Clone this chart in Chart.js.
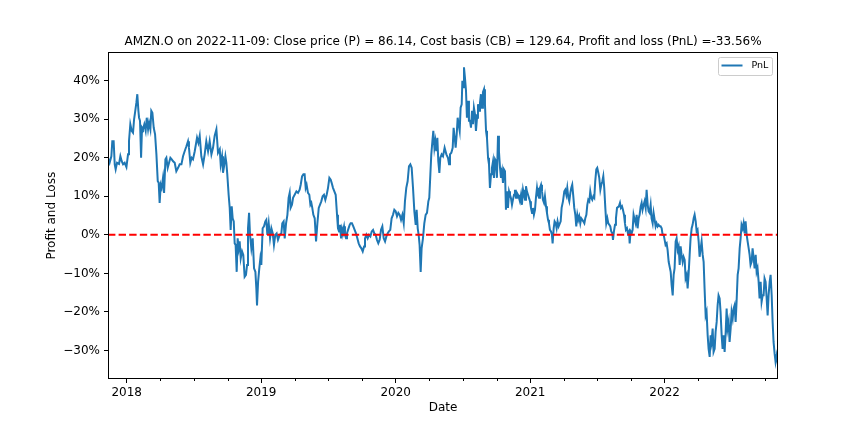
<!DOCTYPE html>
<html>
<head>
<meta charset="utf-8">
<script src="https://cdn.jsdelivr.net/npm/chart.js@4.4.1/dist/chart.umd.min.js"></script>
<style>
  html, body { margin: 0; padding: 0; background: #fff; }
  #chart { display: block; }
</style>
</head>
<body>
<canvas id="chart" width="864" height="432"></canvas>
<script>
// AMZN.O profit and loss vs cost basis
const chartTitle = 'AMZN.O on 2022-11-09: Close price (P) = 86.14, Cost basis (CB) = 129.64, Profit and loss (PnL) =-33.56%';
const seriesLabel = 'PnL';

// dates as decimal years
const years = [
  2017.861, 2017.873, 2017.886, 2017.893, 2017.903, 2017.911, 2017.918, 2017.928, 2017.943, 2017.953,
  2017.963, 2017.973, 2017.985, 2017.998, 2018.010, 2018.017, 2018.027, 2018.037, 2018.047, 2018.055,
  2018.062, 2018.072, 2018.079, 2018.087, 2018.092, 2018.099, 2018.107, 2018.114, 2018.121, 2018.131,
  2018.141, 2018.149, 2018.159, 2018.166, 2018.176, 2018.183, 2018.191, 2018.201, 2018.211, 2018.221,
  2018.231, 2018.238, 2018.245, 2018.253, 2018.260, 2018.270, 2018.278, 2018.288, 2018.295, 2018.305,
  2018.315, 2018.325, 2018.335, 2018.345, 2018.357, 2018.369, 2018.382, 2018.394, 2018.407, 2018.419,
  2018.431, 2018.444, 2018.456, 2018.463, 2018.473, 2018.483, 2018.493, 2018.506, 2018.523, 2018.533,
  2018.543, 2018.555, 2018.568, 2018.580, 2018.592, 2018.605, 2018.617, 2018.630, 2018.642, 2018.654,
  2018.667, 2018.679, 2018.692, 2018.699, 2018.709, 2018.716, 2018.724, 2018.734, 2018.741, 2018.748,
  2018.758, 2018.766, 2018.773, 2018.781, 2018.788, 2018.796, 2018.803, 2018.810, 2018.818, 2018.825,
  2018.833, 2018.840, 2018.848, 2018.858, 2018.867, 2018.877, 2018.887, 2018.895, 2018.902, 2018.910,
  2018.917, 2018.927, 2018.937, 2018.947, 2018.957, 2018.964, 2018.969, 2018.977, 2018.986, 2018.994,
  2019.001, 2019.011, 2019.021, 2019.031, 2019.038, 2019.046, 2019.056, 2019.066, 2019.076, 2019.086,
  2019.095, 2019.105, 2019.115, 2019.125, 2019.138, 2019.150, 2019.157, 2019.167, 2019.175, 2019.185,
  2019.195, 2019.204, 2019.212, 2019.219, 2019.229, 2019.237, 2019.249, 2019.262, 2019.274, 2019.286,
  2019.294, 2019.304, 2019.314, 2019.323, 2019.331, 2019.338, 2019.348, 2019.358, 2019.366, 2019.373,
  2019.380, 2019.388, 2019.398, 2019.408, 2019.418, 2019.428, 2019.437, 2019.447, 2019.457, 2019.467,
  2019.477, 2019.487, 2019.497, 2019.507, 2019.517, 2019.524, 2019.534, 2019.544, 2019.554, 2019.564,
  2019.571, 2019.579, 2019.586, 2019.594, 2019.601, 2019.608, 2019.616, 2019.623, 2019.631, 2019.638,
  2019.646, 2019.658, 2019.665, 2019.675, 2019.685, 2019.695, 2019.705, 2019.715, 2019.725, 2019.735,
  2019.745, 2019.755, 2019.765, 2019.772, 2019.782, 2019.792, 2019.802, 2019.812, 2019.822, 2019.832,
  2019.841, 2019.851, 2019.861, 2019.871, 2019.881, 2019.891, 2019.901, 2019.911, 2019.921, 2019.931,
  2019.941, 2019.950, 2019.960, 2019.970, 2019.980, 2019.990, 2020.000, 2020.010, 2020.020, 2020.030,
  2020.040, 2020.050, 2020.060, 2020.069, 2020.079, 2020.089, 2020.099, 2020.109, 2020.119, 2020.129,
  2020.139, 2020.149, 2020.156, 2020.164, 2020.171, 2020.178, 2020.186, 2020.193, 2020.203, 2020.213,
  2020.223, 2020.233, 2020.243, 2020.250, 2020.258, 2020.265, 2020.273, 2020.280, 2020.288, 2020.295,
  2020.302, 2020.310, 2020.317, 2020.325, 2020.332, 2020.342, 2020.352, 2020.364, 2020.377, 2020.389,
  2020.397, 2020.404, 2020.414, 2020.424, 2020.431, 2020.439, 2020.446, 2020.454, 2020.461, 2020.468,
  2020.476, 2020.483, 2020.491, 2020.496, 2020.503, 2020.508, 2020.515, 2020.523, 2020.530, 2020.538,
  2020.545, 2020.553, 2020.560, 2020.568, 2020.575, 2020.582, 2020.590, 2020.597, 2020.605, 2020.612,
  2020.620, 2020.627, 2020.634, 2020.642, 2020.649, 2020.657, 2020.664, 2020.672, 2020.679, 2020.687,
  2020.694, 2020.701, 2020.709, 2020.716, 2020.724, 2020.731, 2020.739, 2020.746, 2020.753, 2020.761,
  2020.768, 2020.776, 2020.783, 2020.791, 2020.798, 2020.805, 2020.813, 2020.820, 2020.828, 2020.835,
  2020.843, 2020.850, 2020.857, 2020.865, 2020.872, 2020.880, 2020.887, 2020.895, 2020.902, 2020.910,
  2020.917, 2020.924, 2020.932, 2020.939, 2020.947, 2020.954, 2020.962, 2020.969, 2020.976, 2020.984,
  2020.991, 2020.999, 2021.006, 2021.014, 2021.021, 2021.028, 2021.036, 2021.043, 2021.051, 2021.058,
  2021.066, 2021.073, 2021.081, 2021.088, 2021.095, 2021.103, 2021.110, 2021.118, 2021.125, 2021.133,
  2021.140, 2021.147, 2021.155, 2021.162, 2021.167, 2021.175, 2021.182, 2021.190, 2021.197, 2021.204,
  2021.212, 2021.227, 2021.234, 2021.244, 2021.254, 2021.261, 2021.269, 2021.276, 2021.284, 2021.291,
  2021.299, 2021.306, 2021.313, 2021.321, 2021.328, 2021.336, 2021.343, 2021.351, 2021.358, 2021.365,
  2021.373, 2021.380, 2021.388, 2021.395, 2021.403, 2021.410, 2021.418, 2021.425, 2021.432, 2021.440,
  2021.447, 2021.455, 2021.462, 2021.470, 2021.477, 2021.484, 2021.492, 2021.499, 2021.507, 2021.514,
  2021.522, 2021.529, 2021.537, 2021.544, 2021.551, 2021.559, 2021.566, 2021.574, 2021.581, 2021.589,
  2021.596, 2021.603, 2021.611, 2021.616, 2021.623, 2021.631, 2021.638, 2021.646, 2021.653, 2021.660,
  2021.668, 2021.675, 2021.683, 2021.690, 2021.698, 2021.705, 2021.712, 2021.720, 2021.727, 2021.735,
  2021.740, 2021.747, 2021.755, 2021.762, 2021.769, 2021.777, 2021.784, 2021.792, 2021.799, 2021.807,
  2021.814, 2021.822, 2021.829, 2021.836, 2021.844, 2021.851, 2021.859, 2021.866, 2021.874, 2021.881,
  2021.888, 2021.896, 2021.903, 2021.911, 2021.918, 2021.926, 2021.933, 2021.940, 2021.948, 2021.955,
  2021.963, 2021.970, 2021.978, 2021.985, 2021.993, 2022.000, 2022.007, 2022.015, 2022.022, 2022.030,
  2022.045, 2022.052, 2022.060, 2022.067, 2022.074, 2022.082, 2022.089, 2022.097, 2022.104, 2022.112,
  2022.119, 2022.126, 2022.134, 2022.141, 2022.149, 2022.156, 2022.164, 2022.171, 2022.178, 2022.186,
  2022.193, 2022.201, 2022.208, 2022.216, 2022.223, 2022.231, 2022.238, 2022.245, 2022.253, 2022.260,
  2022.268, 2022.275, 2022.283, 2022.290, 2022.297, 2022.305, 2022.312, 2022.320, 2022.327, 2022.335,
  2022.342, 2022.349, 2022.357, 2022.364, 2022.372, 2022.379, 2022.387, 2022.394, 2022.401, 2022.409,
  2022.416, 2022.424, 2022.431, 2022.439, 2022.446, 2022.454, 2022.461, 2022.468, 2022.476, 2022.483,
  2022.491, 2022.498, 2022.506, 2022.513, 2022.520, 2022.528, 2022.535, 2022.543, 2022.550, 2022.558,
  2022.565, 2022.572, 2022.580, 2022.587, 2022.595, 2022.602, 2022.610, 2022.617, 2022.625, 2022.632,
  2022.639, 2022.647, 2022.654, 2022.662, 2022.669, 2022.677, 2022.684, 2022.691, 2022.699, 2022.706,
  2022.714, 2022.721, 2022.729, 2022.736, 2022.743, 2022.751, 2022.758, 2022.766, 2022.773, 2022.781,
  2022.788, 2022.796, 2022.803, 2022.810, 2022.818, 2022.825, 2022.833, 2022.843
];

// profit and loss in percent
const pnl = [
  20.0, 18.7, 20.4, 24.3, 24.3, 18.3, 17.0, 18.7, 18.4, 20.4,
  19.1, 18.3, 18.7, 17.6, 20.9, 24.3, 28.7, 27.0, 26.5, 30.0,
  31.7, 34.3, 36.5, 32.2, 30.4, 29.6, 20.0, 27.8, 27.4, 28.7,
  27.0, 30.4, 27.4, 29.1, 27.4, 32.2, 31.7, 27.8, 26.1, 20.9,
  13.9, 13.5, 8.3, 13.0, 12.2, 14.8, 10.9, 19.6, 20.0, 17.4,
  18.7, 20.0, 19.6, 19.1, 18.7, 16.5, 17.4, 18.3, 18.3, 20.4,
  21.7, 23.0, 24.3, 22.6, 18.7, 20.0, 19.6, 21.7, 25.2, 23.9,
  25.7, 20.4, 18.3, 20.9, 24.3, 21.7, 24.3, 20.9, 22.6, 25.7,
  27.4, 21.3, 22.2, 18.3, 20.4, 16.1, 17.8, 20.4, 18.7, 15.7,
  10.4, 7.0, 1.3, 7.4, 4.3, 3.5, -2.2, -2.6, -9.6, -0.9,
  -3.5, -1.7, -6.1, -4.3, -5.2, -10.9, -10.4, -7.8, 1.7, 5.7,
  0.0, -3.5, -0.9, -8.7, -9.6, -13.9, -18.3, -12.2, -8.7, -6.1,
  -7.8, 1.7, 2.2, 3.5, 3.9, 0.0, 3.0, -0.9, 1.7, 0.4,
  -2.6, 0.0, 0.4, -1.3, 0.0, 0.4, 3.0, 3.5, -0.9, 3.0,
  5.2, 9.6, 10.9, 7.0, 7.8, 9.6, 10.4, 11.3, 10.9, 11.7,
  13.0, 15.2, 15.7, 15.7, 12.2, 13.0, 10.9, 10.4, 7.8, 8.3,
  7.0, 5.2, 4.3, -1.7, 3.0, 7.0, 7.8, 8.7, 10.0, 10.4,
  9.1, 10.4, 12.2, 14.8, 14.3, 13.5, 12.2, 11.3, 10.4, 5.2,
  1.7, 0.9, 2.6, -0.9, 1.7, 0.9, 2.2, 0.0, -0.9, 0.4,
  1.3, 2.6, 3.0, 3.0, 2.2, 1.3, 0.4, -0.9, -2.2, -3.0,
  -3.5, -4.3, -3.0, -0.9, 0.0, -0.9, 0.0, -0.4, 0.9, 1.3,
  0.4, 0.0, -1.3, -2.2, -1.3, 1.3, 2.2, -0.9, -1.7, -0.4,
  0.4, 0.9, 1.3, 4.3, 5.2, 6.5, 6.1, 4.8, 5.7, 5.2,
  3.9, 5.2, 3.0, 8.7, 12.2, 13.9, 17.8, 18.3, 17.4, 12.2,
  6.1, 2.6, 6.5, 1.7, 0.0, -2.6, -9.6, -3.5, -0.9, 3.0,
  5.2, 5.7, 8.7, 9.6, 15.7, 20.9, 24.3, 27.0, 22.6, 24.3,
  21.7, 25.2, 19.1, 16.1, 20.0, 20.9, 20.4, 22.6, 20.9, 20.0,
  18.3, 20.9, 21.3, 22.6, 27.8, 25.2, 22.6, 26.1, 30.4, 28.7,
  27.0, 33.0, 33.9, 40.0, 38.3, 43.5, 40.9, 37.4, 30.4, 34.8,
  29.6, 29.6, 27.8, 32.2, 28.7, 33.0, 31.3, 27.0, 30.4, 33.9,
  32.2, 34.3, 36.5, 33.0, 37.0, 37.8, 33.9, 27.0, 25.2, 20.0,
  18.3, 12.2, 15.7, 17.4, 19.1, 14.8, 19.6, 19.1, 14.8, 25.7,
  21.7, 17.4, 14.8, 16.5, 13.5, 17.0, 16.5, 6.5, 11.3, 7.0,
  11.3, 10.4, 9.6, 7.8, 9.1, 10.4, 11.7, 9.6, 10.9, 10.4,
  9.6, 8.7, 10.4, 7.8, 11.7, 10.4, 9.1, 12.6, 11.3, 10.4,
  9.6, 8.7, 7.0, 5.7, 7.0, 5.2, 6.5, 9.6, 12.2, 10.4,
  9.6, 12.2, 13.0, 11.3, 9.1, 8.3, 10.0, 7.4, 5.7, 3.9,
  3.0, 1.3, 0.9, 0.0, -2.2, 1.7, 3.5, 3.0, 1.7, 3.5,
  2.2, 3.5, 7.0, 8.7, 11.3, 11.7, 10.4, 12.2, 9.6, 8.7,
  10.9, 12.2, 13.0, 10.0, 7.0, 5.2, 2.2, 5.2, 3.9, 4.8,
  3.0, 4.3, 3.9, 3.5, 3.0, 4.3, 5.2, 7.8, 9.1, 8.7,
  11.3, 9.6, 9.1, 10.0, 9.6, 13.9, 17.0, 17.4, 16.1, 14.8,
  11.7, 13.0, 13.9, 15.2, 12.2, 7.0, 3.0, 4.3, 3.0, 2.6,
  2.2, 0.9, 0.4, -1.3, 0.9, 2.6, 4.3, 7.0, 7.0, 7.4,
  8.3, 7.0, 7.4, 6.5, 5.2, 3.0, 1.3, 1.7, 0.4, 0.9,
  -2.2, 0.9, 0.4, 1.3, 5.2, 3.9, 3.0, 5.2, 1.7, 4.3,
  5.2, 7.4, 8.3, 6.5, 7.8, 8.7, 7.0, 11.7, 7.8, 6.1,
  5.7, 7.8, 4.3, 3.0, 5.7, 3.9, 2.2, 3.0, 2.2, 2.6,
  2.2, 2.2, 1.7, 0.0, 0.0, -1.3, -2.6, -2.2, -3.9, -7.0,
  -9.6, -13.0, -15.7, -10.4, -8.7, -1.7, -0.9, -3.9, -3.0, -7.8,
  -3.0, -5.2, -7.0, -5.7, -6.5, -11.3, -10.4, -13.9, -10.4, -5.2,
  -0.9, 1.7, 2.6, 4.3, 5.2, 3.5, 0.9, 1.3, -1.7, -5.7,
  -3.5, -1.7, -5.2, -7.0, -13.9, -20.9, -20.0, -26.1, -29.6, -31.7,
  -26.1, -27.8, -24.3, -30.4, -29.6, -25.2, -22.6, -18.3, -15.7, -16.5,
  -20.0, -26.1, -29.6, -26.1, -30.4, -25.2, -19.1, -24.3, -22.6, -27.8,
  -24.3, -20.0, -21.7, -19.1, -18.3, -22.6, -17.4, -10.4, -8.7, -3.5,
  -0.9, 2.6, 1.7, 3.0, 0.4, 3.5, 0.0, -1.7, -3.5, -5.2,
  -7.8, -7.0, -3.5, -6.1, -8.7, -5.2, -9.6, -8.7, -12.2, -16.5,
  -12.2, -17.4, -15.7, -15.7, -11.3, -12.2, -16.1, -20.9, -15.7, -12.2,
  -10.4, -15.7, -22.6, -27.8, -30.9, -33.0, -31.3, -33.56
];

const yearTicks = [2018, 2019, 2020, 2021, 2022];
const quarterTicks = [
  2018.25, 2018.5, 2018.75, 2019.25, 2019.5, 2019.75, 2020.25, 2020.5, 2020.75,
  2021.25, 2021.5, 2021.75, 2022.25, 2022.5, 2022.75
];
const pnlTicks = [-30, -20, -10, 0, 10, 20, 30, 40];
const zeroLevel = 0;

Chart.defaults.font.family = "'DejaVu Sans', sans-serif";
Chart.defaults.font.size = 12;
Chart.defaults.color = '#000';

const pnlPoints = years.map((x, i) => ({ x: x, y: pnl[i] }));
const zeroPoints = [
  { x: years[0], y: zeroLevel },
  { x: years[years.length - 1], y: zeroLevel },
];

// matplotlib-like 5% margins on y
const lo = Math.min(...pnl);
const hi = Math.max(...pnl);
const pad = (hi - lo) * 0.05;

// axes frame, minor x ticks and an inside legend
const framePlugin = {
  id: 'frame',
  afterDraw(chart) {
    const { ctx, chartArea: a, scales } = chart;
    ctx.save();
    ctx.strokeStyle = '#000';
    ctx.lineWidth = 1;
    ctx.beginPath();
    quarterTicks.forEach(q => {
      const x = Math.round(scales.x.getPixelForValue(q)) + 0.5;
      ctx.moveTo(x, a.bottom);
      ctx.lineTo(x, a.bottom + 2);
    });
    ctx.stroke();
    const l = Math.round(a.left) + 0.5;
    const t = Math.round(a.top) + 0.5;
    const r = Math.round(a.right) - 0.5;
    const b = Math.round(a.bottom) - 0.5;
    ctx.strokeRect(l, t, r - l, b - t);

    // legend
    const ds = chart.data.datasets[1];
    const lx = Math.round(a.right) - 59.5;
    const ly = Math.round(a.top) + 5.5;
    ctx.beginPath();
    ctx.roundRect(lx, ly, 54, 18, 2);
    ctx.fillStyle = 'rgba(255,255,255,0.8)';
    ctx.fill();
    ctx.strokeStyle = '#cccccc';
    ctx.stroke();
    ctx.beginPath();
    ctx.strokeStyle = ds.borderColor;
    ctx.lineWidth = 2;
    ctx.moveTo(lx + 3, ly + 8);
    ctx.lineTo(lx + 24, ly + 8);
    ctx.stroke();
    ctx.fillStyle = '#000';
    ctx.font = "9.5px 'DejaVu Sans', sans-serif";
    ctx.textBaseline = 'middle';
    ctx.fillText(ds.label, lx + 33, ly + 8.5);
    ctx.restore();
  }
};

new Chart(document.getElementById('chart'), {
  type: 'line',
  data: {
    datasets: [
      {
        label: 'zero',
        data: zeroPoints,
        borderColor: '#ff0000',
        borderWidth: 2,
        borderDash: [7.4, 3.2],
        pointRadius: 0,
        order: 0,
      },
      {
        label: seriesLabel,
        data: pnlPoints,
        borderColor: '#1f77b4',
        borderWidth: 2,
        pointRadius: 0,
        tension: 0,
        order: 1,
      },
    ],
  },
  options: {
    responsive: false,
    animation: false,
    devicePixelRatio: 1,
    layout: { padding: { left: 0, right: 86, top: 0, bottom: 0 } },
    plugins: {
      legend: { display: false },
      tooltip: { enabled: false },
      title: {
        display: true,
        fullSize: false,
        text: chartTitle,
        color: '#000',
        font: { size: 12, weight: 'normal' },
        padding: { top: 35, bottom: 3 },
      },
    },
    scales: {
      x: {
        type: 'linear',
        min: years[0],
        max: years[years.length - 1],
        afterBuildTicks: axis => { axis.ticks = yearTicks.map(v => ({ value: v })); },
        afterFit: axis => { axis.height = 53; },
        ticks: { callback: v => String(v), padding: 3, maxRotation: 0, autoSkip: false },
        grid: { drawOnChartArea: false, tickLength: 4, color: '#000' },
        border: { display: false },
        title: { display: true, text: 'Date', padding: { top: 0, bottom: 17 } },
      },
      y: {
        min: lo - pad,
        max: hi + pad,
        afterBuildTicks: axis => { axis.ticks = pnlTicks.map(v => ({ value: v })); },
        afterFit: axis => { axis.width = 108; },
        ticks: {
          callback: v => (v < 0 ? '\u2212' + Math.abs(v) : String(v)) + '%',
          padding: 4,
        },
        grid: { drawOnChartArea: false, tickLength: 4, color: '#000' },
        border: { display: false },
        title: { display: true, text: 'Profit and Loss', padding: { top: 45, bottom: 0 } },
      },
    },
  },
  plugins: [framePlugin],
});
</script>
</body>
</html>
